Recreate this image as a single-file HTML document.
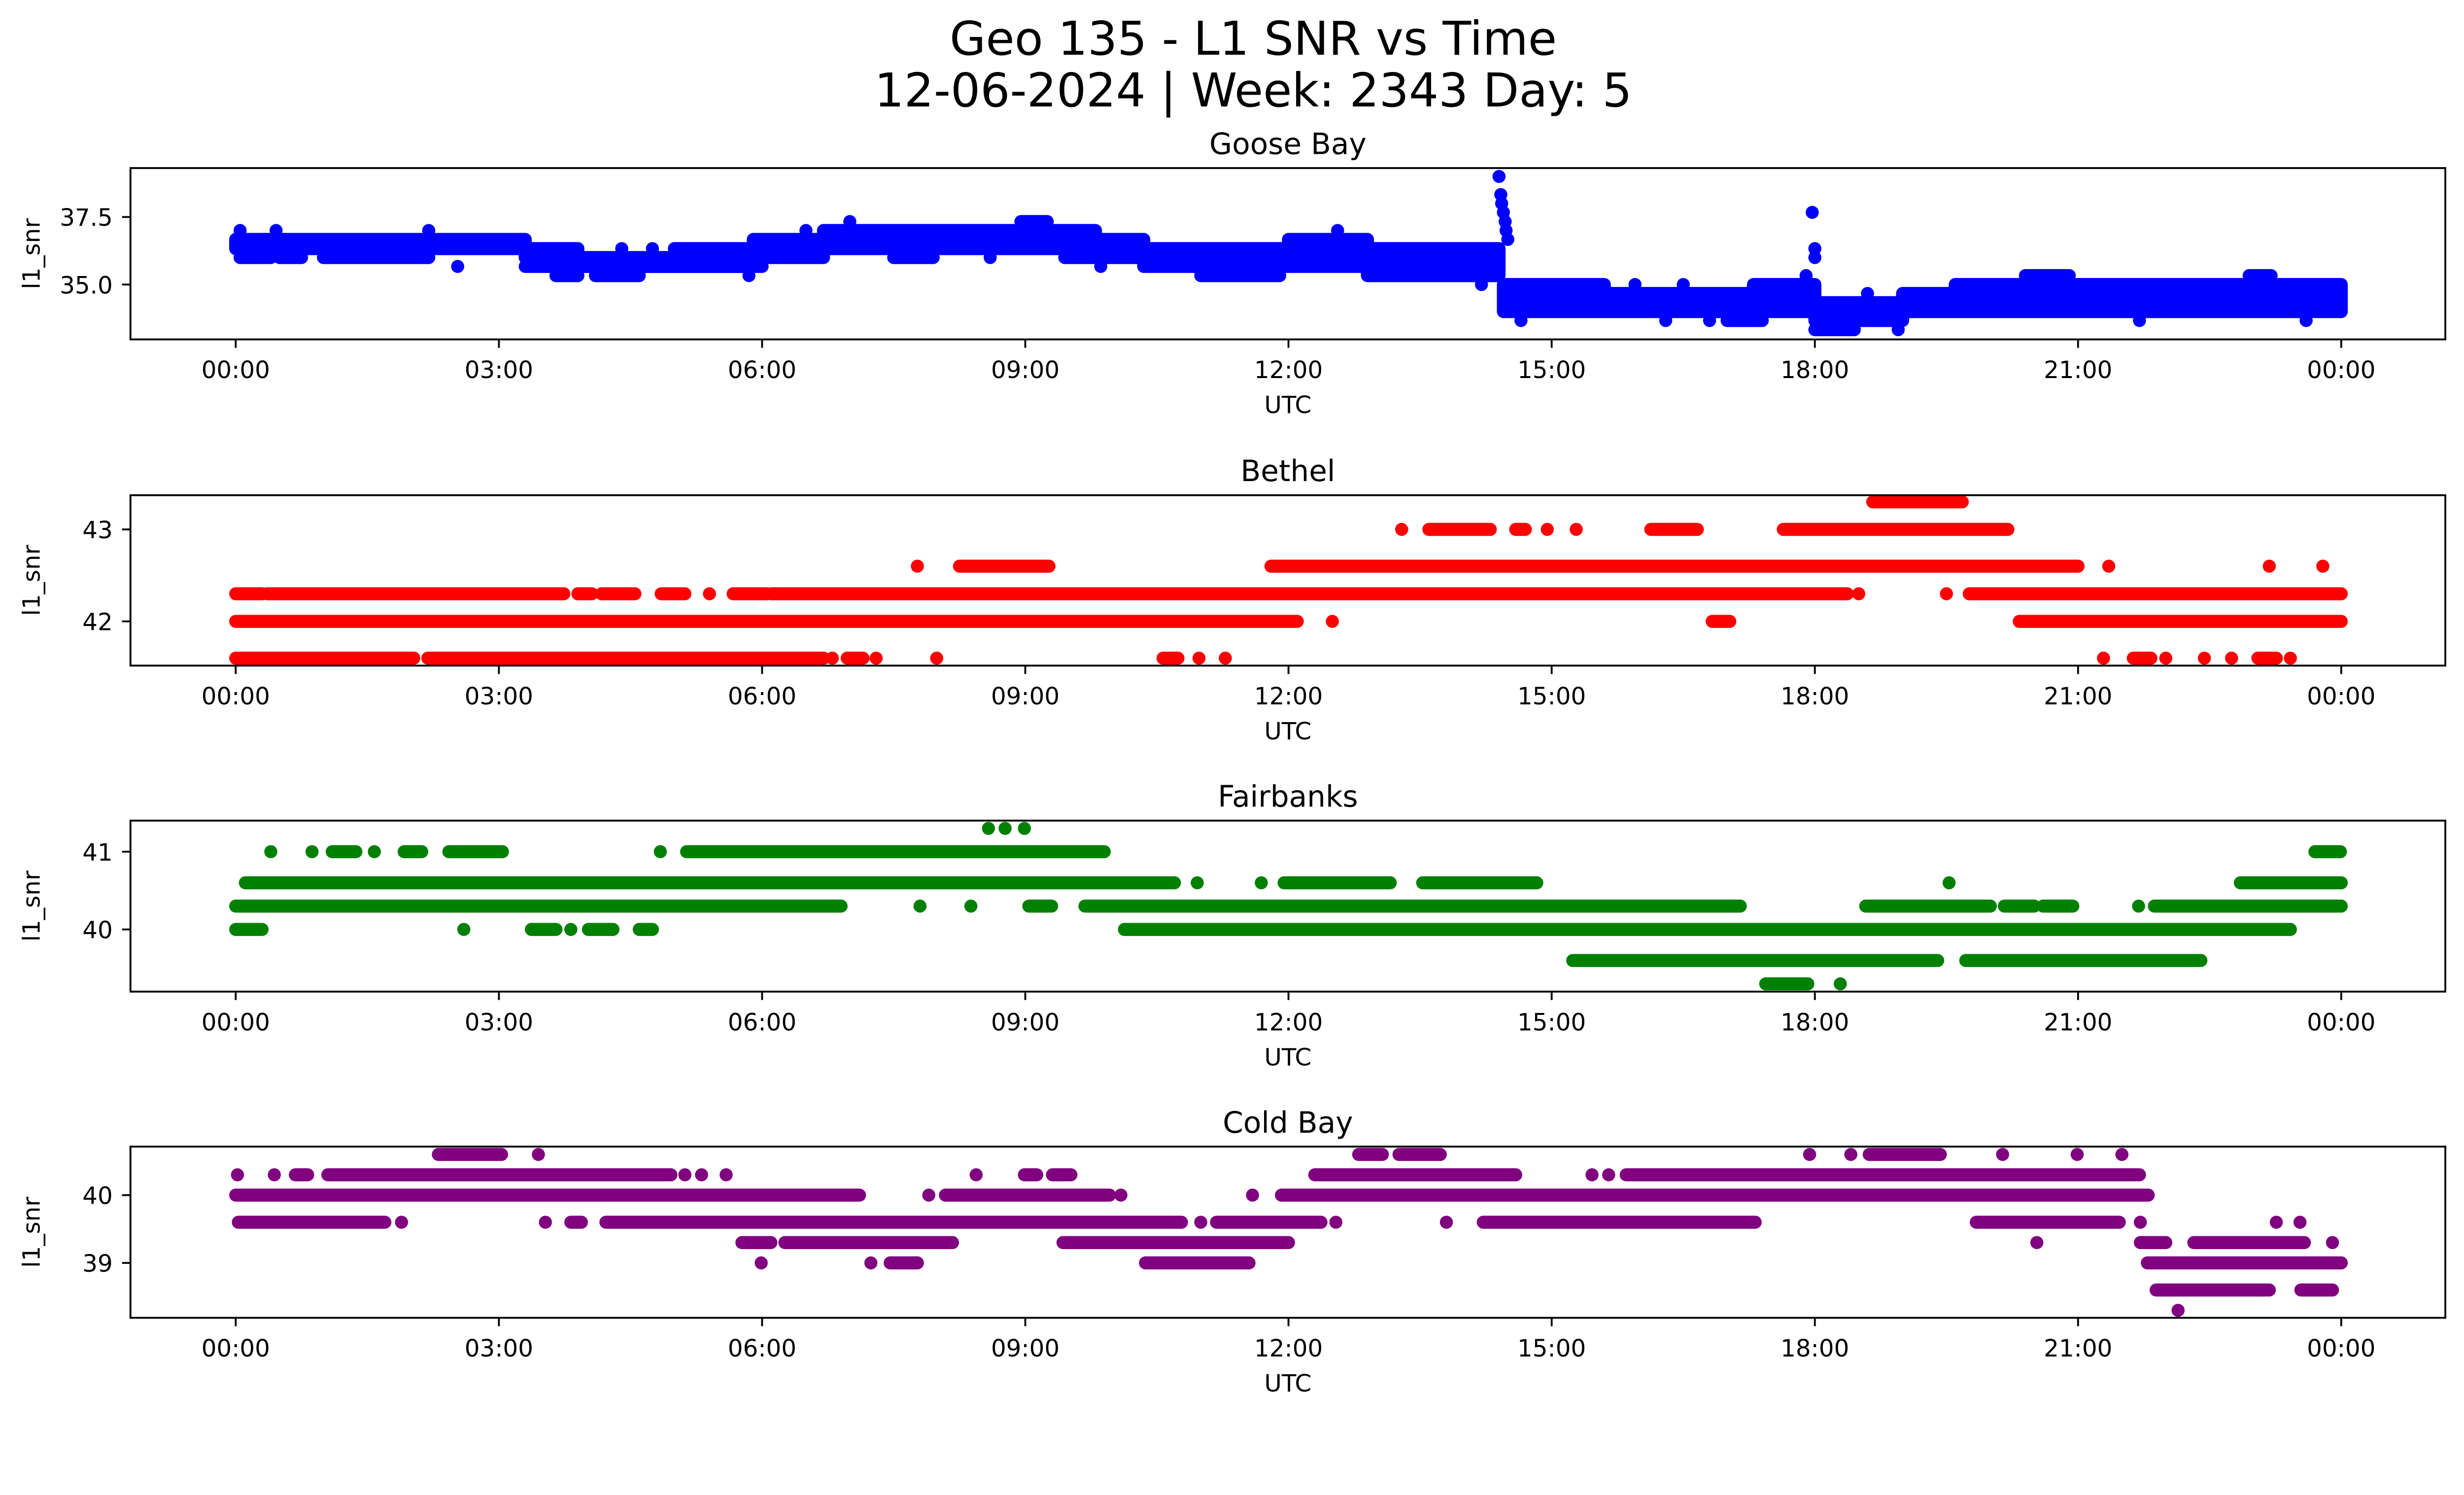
<!DOCTYPE html>
<html>
<head>
<meta charset="utf-8">
<style>
html,body{margin:0;padding:0;background:#fff;overflow:hidden;}
svg{display:block;width:100vw;height:calc(100vw * 3033 / 5279);font-family:"DejaVu Sans","Liberation Sans",sans-serif;}
</style>
</head>
<body>
<svg id="fig" viewBox="0 0 5279 3033" preserveAspectRatio="xMinYMin meet" xmlns="http://www.w3.org/2000/svg">
<rect width="5279" height="3033" fill="#fff"/>
<text x="2685" y="117" font-size="100" text-anchor="middle">Geo 135 - L1 SNR vs Time</text>
<text x="2685" y="228" font-size="100" text-anchor="middle">12-06-2024 | Week: 2343 Day: 5</text>
</svg>
<script>
// ---- data ----
const xTickHours = [0,3,6,9,12,15,18,21,24];
const xTickLabels = ["00:00","03:00","06:00","09:00","12:00","15:00","18:00","21:00","00:00"];
const stationNames = ["Goose Bay","Bethel","Fairbanks","Cold Bay"];
const gooseYTicks = [35.0,37.5];
const gooseYTickLabels = ["35.0","37.5"];
const bethelYTicks = [42,43];
const fairbanksYTicks = [40,41];
const coldbayYTicks = [39,40];
// Goose Bay bands: [startHour, endHour, highValue, lowValue]
const gooseBands = [
[0,3.3,36.67,36.33],[0.05,0.4,36,36],[0.5,0.75,36,36],[1.0,2.2,36,36],
[3.3,3.9,36.33,36.0],[3.3,6.0,35.67,35.67],[3.9,5.9,36.0,35.67],[5.0,5.9,36.33,36.33],
[3.65,3.9,35.33,35.33],[4.1,4.6,35.33,35.33],[5.9,6.7,36.67,36.0],[6.7,9.8,37.0,36.33],
[8.95,9.25,37.33,37.33],[7.5,7.95,36,36],[9.8,10.35,36.67,36.0],[9.45,9.8,36,36],
[10.35,12.0,36.33,35.67],[11.0,11.9,35.33,35.33],[12.0,12.9,36.67,35.67],[12.9,14.4,36.33,35.33],
[14.45,15.6,35.0,34.0],[15.6,17.3,34.67,34.0],[17.0,17.4,33.67,33.67],[17.3,18.0,35.0,34.0],
[18.0,19.0,34.33,33.67],[18.0,18.45,33.33,33.33],[19.0,19.6,34.67,34.0],[19.6,24.0,35.0,34.0],
[20.4,20.9,35.33,35.33],[22.95,23.2,35.33,35.33]
];
// Goose Bay individual points: [hour, value]
const gooseDots = [
[0.05,37.0],[0.46,37.0],[2.2,37.0],[2.53,35.67],[4.4,36.33],[4.75,36.33],[5.85,35.33],[6.5,37.0],
[7.0,37.33],[8.6,36.0],[9.86,35.67],[12.56,37.0],[14.2,35.0],
[14.4,39.0],[14.42,38.33],[14.43,38.0],[14.45,37.67],[14.47,37.33],[14.48,37.0],[14.5,36.67],
[14.65,33.67],[16.3,33.67],[16.8,33.67],[15.95,35.0],[16.5,35.0],[17.9,35.33],
[17.97,37.67],[18.0,36.33],[18.0,36.0],[18.6,34.67],[18.95,33.33],[21.7,33.67],[23.6,33.67]
];
// Runs: [value, startHour, endHour]
const bethelRuns = [
[42.0,0,12.1],[42.0,12.5,12.5],[42.0,16.83,17.03],[42.0,20.33,24.0],
[42.3,0,0.3],[42.3,0.36,3.74],[42.3,3.9,4.06],[42.3,4.17,4.55],[42.3,4.85,5.12],[42.3,5.4,5.4],[42.3,5.67,6.05],[42.3,6.1,18.37],[42.3,18.5,18.5],[42.3,19.5,19.5],[42.3,19.76,24.0],
[41.6,0,2.03],[41.6,2.19,6.7],[41.6,6.8,6.8],[41.6,6.97,7.15],[41.6,7.3,7.3],[41.6,7.99,7.99],[41.6,10.57,10.74],[41.6,10.98,10.98],[41.6,11.28,11.28],[41.6,21.29,21.29],[41.6,21.63,21.83],[41.6,22.0,22.0],[41.6,22.44,22.44],[41.6,22.75,22.75],[41.6,23.05,23.26],[41.6,23.42,23.42],
[42.6,7.77,7.77],[42.6,8.25,9.27],[42.6,11.8,21.0],[42.6,21.35,21.35],[42.6,23.18,23.18],[42.6,23.79,23.79],
[43.0,13.29,13.29],[43.0,13.6,14.3],[43.0,14.59,14.7],[43.0,14.95,14.95],[43.0,15.28,15.28],[43.0,16.13,16.66],[43.0,17.64,20.2],
[43.3,18.66,19.68]
];
const fairbanksRuns = [
[41.3,8.58,8.58],[41.3,8.77,8.77],[41.3,8.99,8.99],
[41.0,0.4,0.4],[41.0,0.87,0.87],[41.0,1.1,1.37],[41.0,1.58,1.58],[41.0,1.92,2.12],[41.0,2.43,3.04],[41.0,4.84,4.84],[41.0,5.14,9.9],[41.0,23.7,23.99],
[40.6,0.11,10.7],[40.6,10.96,10.96],[40.6,11.69,11.69],[40.6,11.95,13.16],[40.6,13.53,14.83],[40.6,19.53,19.53],[40.6,22.85,24.0],
[40.3,0,6.9],[40.3,7.8,7.8],[40.3,8.38,8.38],[40.3,9.04,9.3],[40.3,9.68,17.15],[40.3,18.58,20.0],[40.3,20.16,20.5],[40.3,20.6,20.94],[40.3,21.69,21.69],[40.3,21.87,24.0],
[40.0,0,0.3],[40.0,2.6,2.6],[40.0,3.37,3.65],[40.0,3.82,3.82],[40.0,4.02,4.3],[40.0,4.6,4.75],[40.0,10.13,23.42],
[39.6,15.24,19.4],[39.6,19.72,22.4],
[39.3,17.44,17.92],[39.3,18.29,18.29]
];
const coldbayRuns = [
[40.6,2.31,3.03],[40.6,3.45,3.45],[40.6,12.8,13.07],[40.6,13.26,13.73],[40.6,17.94,17.94],[40.6,18.41,18.41],[40.6,18.62,19.43],[40.6,20.14,20.14],[40.6,20.99,20.99],[40.6,21.5,21.5],
[40.3,0.02,0.02],[40.3,0.44,0.44],[40.3,0.68,0.82],[40.3,1.05,4.96],[40.3,5.12,5.12],[40.3,5.31,5.31],[40.3,5.59,5.59],[40.3,8.44,8.44],[40.3,8.99,9.13],[40.3,9.31,9.52],[40.3,12.3,14.59],[40.3,15.46,15.46],[40.3,15.65,15.65],[40.3,15.85,21.7],
[40.0,0,7.11],[40.0,7.9,7.9],[40.0,8.09,9.96],[40.0,10.09,10.09],[40.0,11.59,11.59],[40.0,11.92,21.8],
[39.6,0.03,1.7],[39.6,1.89,1.89],[39.6,3.53,3.53],[39.6,3.82,3.94],[39.6,4.22,10.78],[39.6,11.0,11.0],[39.6,11.18,12.37],[39.6,12.54,12.54],[39.6,13.8,13.8],[39.6,14.22,17.32],[39.6,19.84,21.47],[39.6,21.71,21.71],[39.6,23.26,23.26],[39.6,23.53,23.53],
[39.3,5.77,6.1],[39.3,6.26,8.17],[39.3,9.43,12.0],[39.3,20.53,20.53],[39.3,21.71,22.0],[39.3,22.32,23.58],[39.3,23.9,23.9],
[39.0,5.99,5.99],[39.0,7.24,7.24],[39.0,7.46,7.77],[39.0,10.37,11.55],[39.0,21.79,24.0],
[38.6,21.89,23.18],[38.6,23.54,23.9],
[38.3,22.14,22.14]
];

// ---- layout ----
const NS = "http://www.w3.org/2000/svg";
const svg = document.getElementById('fig');
const AX_L = 279.5, AX_R = 5239;
const X0 = 505, X24 = 5016;
const R = 14;
function xScale(h){ return X0 + (X24 - X0) * h / 24; }
const panels = [
 {key:'goose-bay', top:360, bottom:727, ymin:32.97, ymax:39.31, color:'#0000ff', ticks:gooseYTicks, tickLabels:gooseYTickLabels},
 {key:'bethel', top:1060.7, bottom:1425.7, ymin:41.519, ymax:43.372, color:'#ff0000', ticks:bethelYTicks, tickLabels:bethelYTicks.map(String)},
 {key:'fairbanks', top:1757.7, bottom:2124, ymin:39.20, ymax:41.40, color:'#008000', ticks:fairbanksYTicks, tickLabels:fairbanksYTicks.map(String)},
 {key:'cold-bay', top:2456, bottom:2822.7, ymin:38.19, ymax:40.716, color:'#800080', ticks:coldbayYTicks, tickLabels:coldbayYTicks.map(String)}
];
function mk(tag, attrs, parent){
  const e = document.createElementNS(NS, tag);
  for (const k in attrs) e.setAttribute(k, attrs[k]);
  (parent||svg).appendChild(e);
  return e;
}
panels.forEach((p, i) => {
  const yScale = v => p.bottom - (v - p.ymin) / (p.ymax - p.ymin) * (p.bottom - p.top);
  const g = mk('g', {});
  
  
  const clipId = 'clip' + i;
  const cp = mk('clipPath', {id: clipId}, g);
  mk('rect', {x: AX_L, y: p.top, width: AX_R - AX_L, height: p.bottom - p.top}, cp);
  const marks = mk('g', {'clip-path': 'url(#' + clipId + ')', fill: p.color, stroke: p.color}, g);
  
  
  if (i === 0) {
    gooseBands.forEach(b => {
      const x1 = xScale(b[0]), x2 = xScale(b[1]);
      const y1 = yScale(b[2]), y2 = yScale(b[3]);
      const r = mk('rect', {x: x1 - R, y: y1 - R, width: x2 - x1 + 2*R, height: y2 - y1 + 2*R, rx: R, ry: R, stroke: 'none'}, marks);
      
      
    });
    gooseDots.forEach(d => {
      const c = mk('circle', {cx: xScale(d[0]), cy: yScale(d[1]), r: R, stroke: 'none'}, marks);
      
      
    });
  } else {
    const runs = i === 1 ? bethelRuns : (i === 2 ? fairbanksRuns : coldbayRuns);
    runs.forEach(rn => {
      const y = yScale(rn[0]);
      if (rn[1] === rn[2]) {
        const c = mk('circle', {cx: xScale(rn[1]), cy: y, r: R, stroke: 'none'}, marks);
        
        
      } else {
        const l = mk('line', {x1: xScale(rn[1]), y1: y, x2: xScale(rn[2]), y2: y, 'stroke-width': 2*R, 'stroke-linecap': 'round'}, marks);
        
        
      }
    });
  }
  const fr = mk('rect', {x: AX_L, y: p.top, width: AX_R - AX_L, height: p.bottom - p.top, fill: 'none', stroke: '#000', 'stroke-width': 4}, g);
  
  
  xTickHours.forEach((h, k) => {
    const x = xScale(h);
    const t = mk('line', {x1: x, y1: p.bottom, x2: x, y2: p.bottom + 18, stroke: '#000', 'stroke-width': 4}, g);
    
    
    const tl = mk('text', {x: x, y: p.bottom + 83, 'font-size': 51, 'text-anchor': 'middle'}, g);
    tl.textContent = xTickLabels[k];
    
    
  });
  p.ticks.forEach((v, k) => {
    const y = yScale(v);
    const t = mk('line', {x1: AX_L - 18, y1: y, x2: AX_L, y2: y, stroke: '#000', 'stroke-width': 4}, g);
    
    
    const tl = mk('text', {x: AX_L - 38, y: y + 19, 'font-size': 51, 'text-anchor': 'end'}, g);
    tl.textContent = p.tickLabels[k];
    
    
  });
  const xl = mk('text', {x: (AX_L + AX_R) / 2, y: p.bottom + 158, 'font-size': 51, 'text-anchor': 'middle'}, g);
  xl.textContent = 'UTC';
  
  
  const cy = (p.top + p.bottom) / 2;
  const yl = mk('text', {x: 0, y: 0, 'font-size': 51, 'text-anchor': 'middle', transform: 'translate(85,' + cy + ') rotate(-90)'}, g);
  yl.textContent = 'l1_snr';
  
  
  const pt = mk('text', {x: (AX_L + AX_R) / 2, y: p.top - 30, 'font-size': 63, 'text-anchor': 'middle'}, g);
  pt.textContent = stationNames[i];
  
  
});
</script>
</body>
</html>
